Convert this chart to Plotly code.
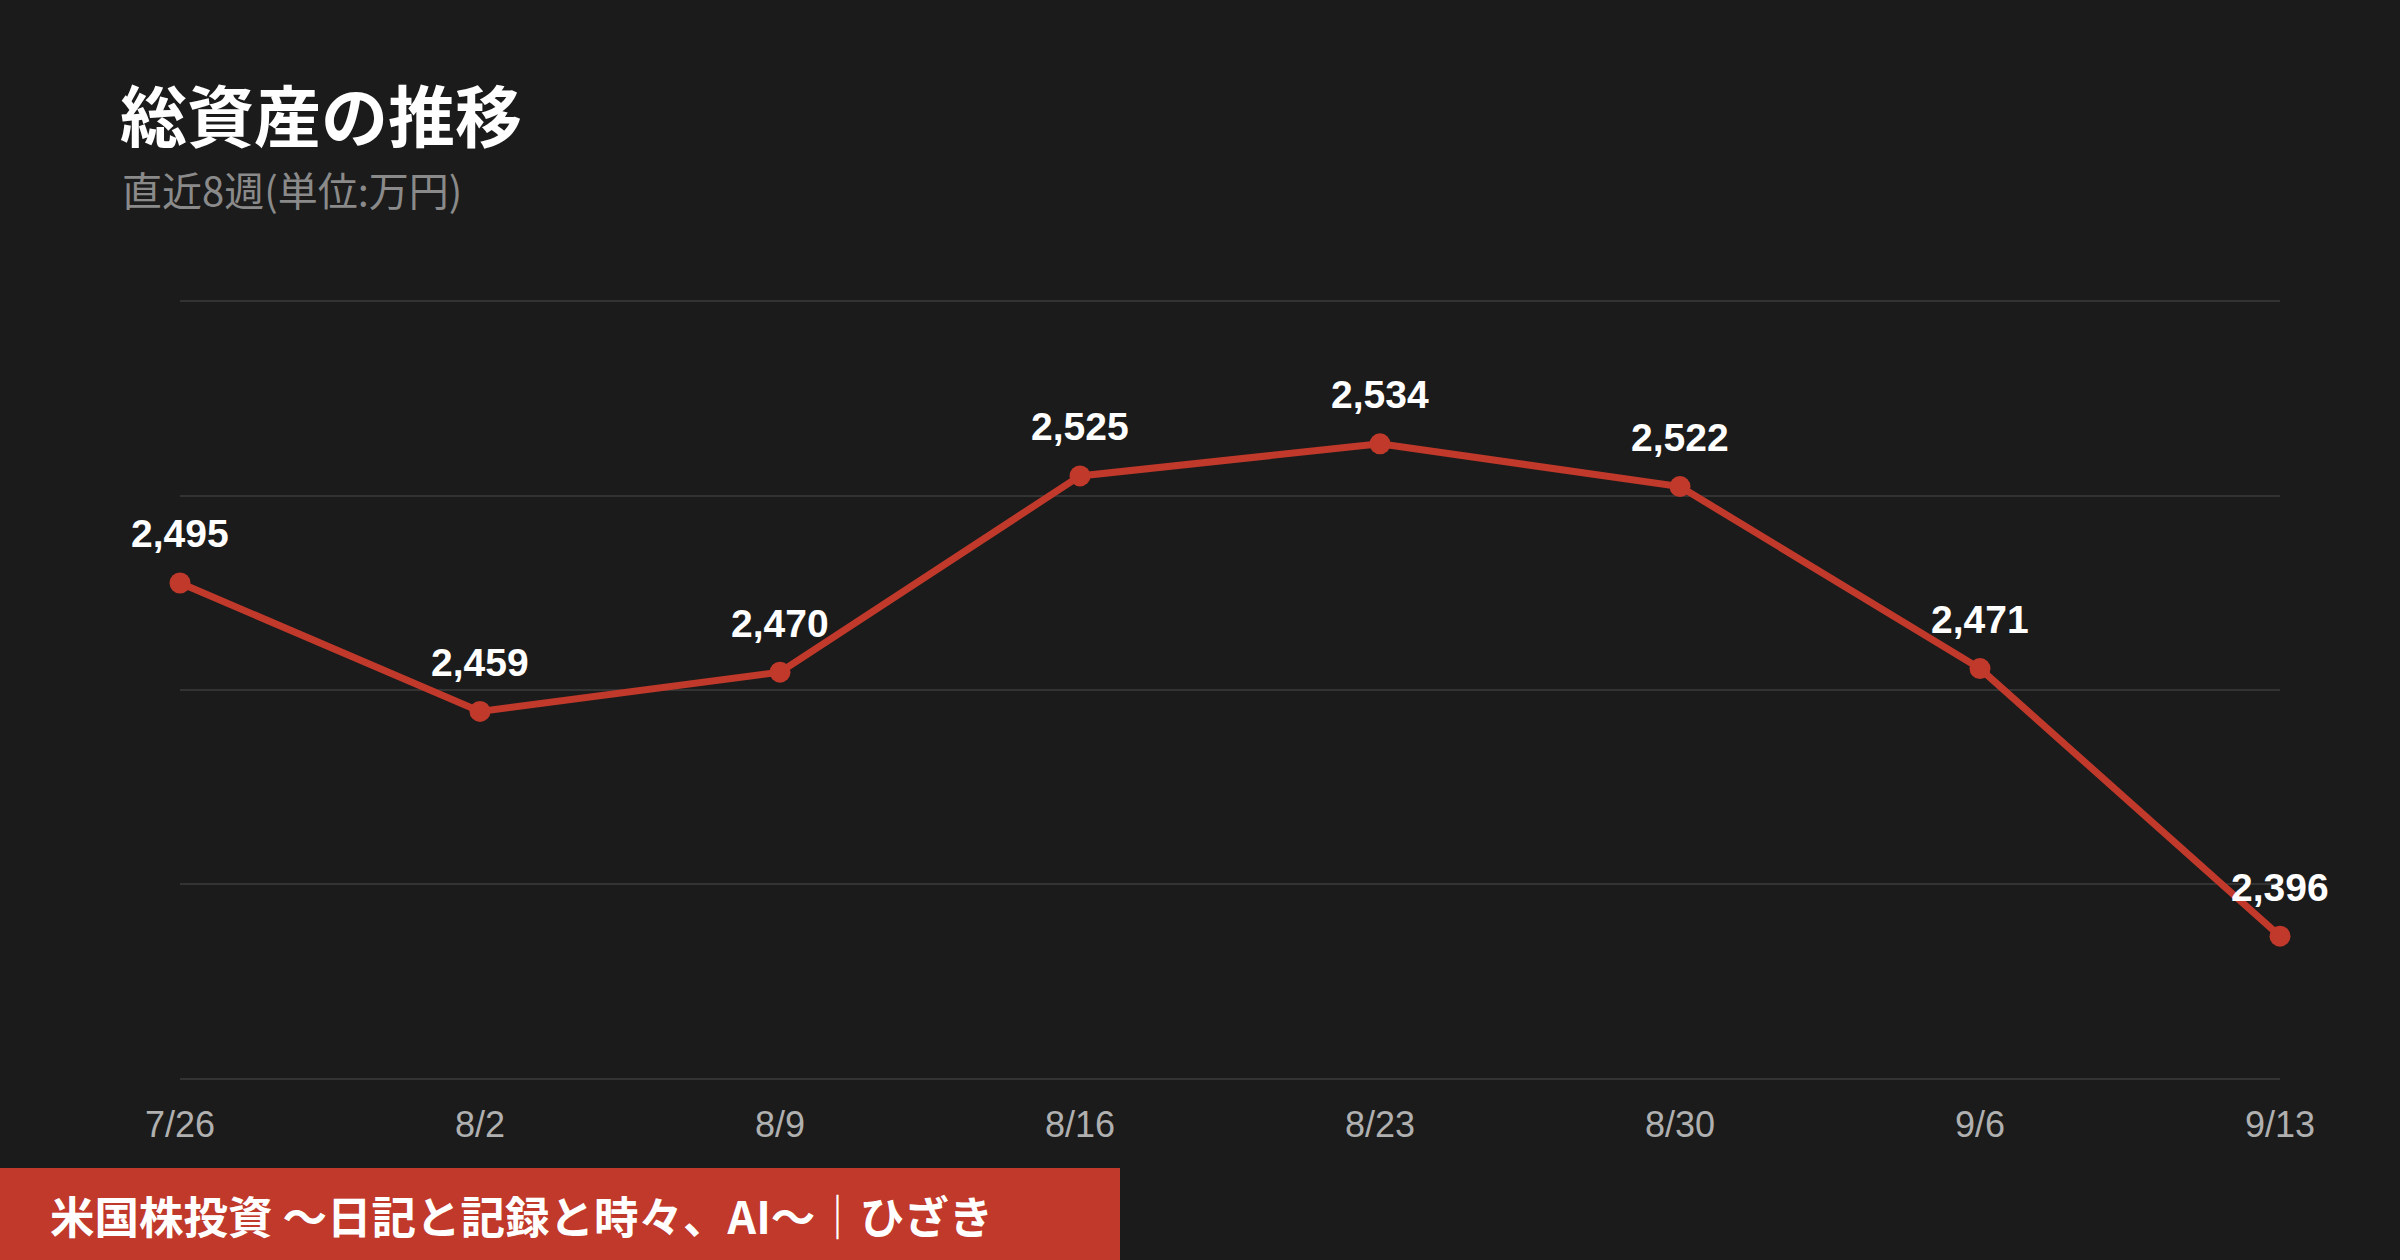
import plotly.graph_objects as go
import numpy as np

dates = ["7/26", "8/2", "8/9", "8/16", "8/23", "8/30", "9/6", "9/13"]
values = [2495, 2459, 2470, 2525, 2534, 2522, 2471, 2396]
labels = [f"{v:,}" for v in values]

title_text = "総資産の推移"
subtitle_text = "直近8週(単位:万円)"
footer_text = "米国株投資 〜日記と記録と時々、AI〜｜ひざき"

BG = "#1b1b1b"
RED = "#c0392b"
W, H = 2400, 1260
L, R, T, B = 180, 120, 300, 180
PW, PH = W - L - R, H - T - B

def px_x(px):
    return (px - L) / PW

def px_y(py):
    return 1 - (py - T) / PH

ymin, ymax = min(values) - 40, max(values) + 40
eps = 0.3

fig = go.Figure()
fig.add_trace(go.Scatter(
    x=dates, y=values, mode="lines+markers",
    line=dict(color=RED, width=7),
    marker=dict(color=RED, size=21),
    cliponaxis=False, hoverinfo="skip", showlegend=False,
))

for d, v, t in zip(dates, values, labels):
    fig.add_annotation(
        x=d, y=v, text=t, showarrow=False, yshift=49,
        xanchor="center", yanchor="middle",
        font=dict(family="Liberation Sans, Arial, sans-serif", size=39, color="#ffffff", weight="bold"),
    )

fig.add_annotation(
    xref="paper", yref="paper", x=px_x(118), y=px_y(113),
    xanchor="left", yanchor="middle", showarrow=False,
    text=f"<b>{title_text}</b>",
    font=dict(family="Noto Sans CJK JP", size=67, color="#ffffff"),
)
fig.add_annotation(
    xref="paper", yref="paper", x=px_x(120), y=px_y(189),
    xanchor="left", yanchor="middle", showarrow=False,
    text=subtitle_text,
    font=dict(family="Noto Sans CJK JP", size=40, color="#8a8a8a"),
)

fig.add_shape(
    type="rect", xref="paper", yref="paper",
    x0=px_x(0), x1=px_x(1120), y0=px_y(1260), y1=px_y(1168),
    fillcolor=RED, line=dict(width=0), layer="above",
)
fig.add_annotation(
    xref="paper", yref="paper", x=px_x(48), y=px_y(1214),
    xanchor="left", yanchor="middle", showarrow=False,
    text=f"<b>{footer_text}</b>",
    font=dict(family="Noto Sans CJK JP", size=44.5, color="#ffffff"),
)

fig.update_layout(
    width=W, height=H,
    margin=dict(l=L, r=R, t=T, b=B, pad=0),
    paper_bgcolor=BG, plot_bgcolor=BG,
    showlegend=False,
    xaxis=dict(
        type="category", range=[0, len(dates) - 1],
        showgrid=False, zeroline=False, showline=False,
        ticks="", ticklabelstandoff=20,
        tickfont=dict(family="Liberation Sans, Arial, sans-serif", size=36, color="#b0b0b0"),
    ),
    yaxis=dict(
        range=[ymin - eps, ymax + eps],
        tickvals=list(np.linspace(ymin, ymax, 5)),
        showticklabels=False, showgrid=True, gridcolor="#333333", gridwidth=2,
        zeroline=False, showline=False, ticks="",
    ),
)

fig.write_html(
    "out.html",
    config={"displayModeBar": False},
    post_script="document.body.style.margin='0';document.body.style.background='#1b1b1b';",
)
